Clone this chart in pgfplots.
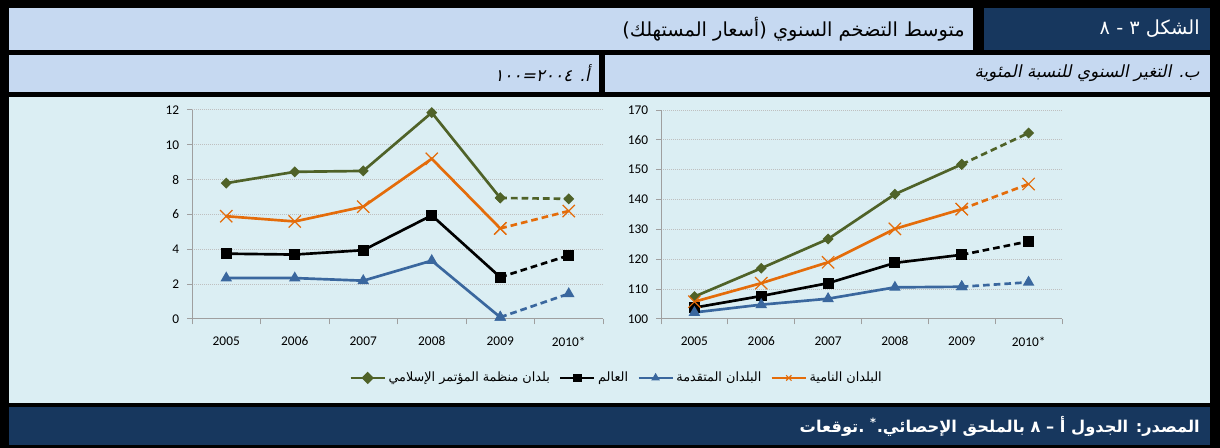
\documentclass[border=0pt]{standalone}
\usepackage{fontspec}
\setmainfont{Carlito}
\newfontfamily\arabicfont[Script=Arabic]{DejaVu Sans}
\newfontfamily\arabicslant[Script=Arabic,FakeSlant=0.2]{DejaVu Sans}
\usepackage{pgfplots}
\pgfplotsset{compat=1.18}
\TeXXeTstate=1

\definecolor{oicgreen}{RGB}{79,98,40}
\definecolor{devorange}{RGB}{228,108,10}
\definecolor{advblue}{RGB}{58,103,158}
\definecolor{headblue}{RGB}{198,217,241}
\definecolor{darkblue}{RGB}{23,55,94}
\definecolor{chartbg}{RGB}{219,238,243}

\pgfplotsset{
  panel/.style={
    scale only axis, height=156.75pt,
    xmin=0.5, xmax=6.5,
    xtick={1,...,6}, xticklabels={2005,2006,2007,2008,2009,2010*},
    minor xtick={0.5,1.5,...,6.5},
    axis lines=left, axis line style={draw=gray!75, line width=0.75pt, -},
    tick align=outside, major tick length=3.75pt, minor tick length=4pt,
    major x tick style={draw=none},
    minor x tick style={draw=gray!75, line width=0.75pt},
    ytick style={draw=gray!75, line width=0.75pt},
    ymajorgrids,
    major grid style={gray!50, line width=0.75pt, dash pattern=on 0.75pt off 0.75pt},
    tick label style={font=\fontsize{10}{12}\selectfont},
    xticklabel shift=6pt, yticklabel shift=2.4pt,
    /pgf/number format/assume math mode=true,
    clip=false,
    legend image code/.code={\draw[mark repeat=2,mark phase=2,#1,line width=1.6pt,mark size=2.8pt] plot coordinates {(0cm,0cm) (0.45cm,0cm) (0.9cm,0cm)};},
  },
  sgreen/.style={oicgreen, line width=2pt, mark=square*, mark size=2.4pt, mark options={solid, rotate=45, fill=oicgreen, line width=1pt}},
  sblack/.style={black, line width=2pt, mark=square*, mark size=3.6pt, mark options={solid, fill=black, line width=1pt}},
  sblue/.style={advblue, line width=2pt, mark=triangle*, mark size=4pt, mark options={solid, fill=advblue, line width=1pt}},
  sorange/.style={devorange, line width=2pt, mark=x, mark size=6.5pt, mark options={solid, line width=0.9pt}},
  proj/.style={dash pattern=on 5pt off 3pt, forget plot},
}

\begin{document}
\begin{tikzpicture}
\begin{scope}[x=0.75pt, y=-0.75pt]
  \path[use as bounding box] (0,0) rectangle (1220,448);
  \fill[black] (0,0) rectangle (1220,448);
  \fill[headblue] (9,8) rectangle (973,50);
  \fill[darkblue] (984,8) rectangle (1210,50);
  \fill[headblue] (9,55) rectangle (599,92);
  \fill[headblue] (605,55) rectangle (1210,92);
  \fill[chartbg] (9,97) rectangle (1210,403);
  \fill[darkblue] (9,407) rectangle (1210,445);

  \node[anchor=east, inner sep=0pt, font=\arabicfont\fontsize{14.5}{16}\selectfont] at (965,29)
    {\beginR متوسط التضخم السنوي (أسعار المستهلك)\endR};
  \node[anchor=east, inner sep=0pt, text=white, font=\arabicfont\fontsize{14.5}{16}\selectfont] at (1200,29)
    {\beginR الشكل ٣ - ٨\endR};
  \node[anchor=east, inner sep=0pt, font=\arabicslant\fontsize{12.7}{15}\selectfont] at (590,73)
    {\beginR أ. ٢٠٠٤=١٠٠\endR};
  \node[anchor=east, inner sep=0pt, font=\arabicslant\fontsize{12.6}{15}\selectfont] at (1200,73)
    {\beginR ب. التغير السنوي للنسبة المئوية\endR};
  \node[anchor=east, inner sep=0pt, text=white, font=\arabicfont\bfseries\fontsize{12.2}{15}\selectfont] at (1200,426)
    {\beginR المصدر: الجدول أ – ٨ بالملحق الإحصائي.\textsuperscript{*} .توقعات\endR};
\end{scope}

% left panel: annual change, percent
\begin{axis}[panel, at={(144pt,-239.25pt)}, anchor=south west, width=308.25pt,
  ymin=0, ymax=12, ytick={0,2,...,12},
  legend columns=4,
  legend style={at={(1.034,-0.282)}, anchor=center, draw=none, fill=none,
    font=\arabicfont\fontsize{9.6}{11}\selectfont,
    /tikz/every even column/.append style={column sep=5pt}},
]
\addplot[sgreen] coordinates {(1,7.8) (2,8.45) (3,8.5) (4,11.85) (5,6.95)};
\addlegendentry{\beginR بلدان منظمة المؤتمر الإسلامي\endR}
\addplot[sgreen, proj] coordinates {(5,6.95) (6,6.9)};
\addplot[sblack] coordinates {(1,3.75) (2,3.7) (3,3.95) (4,5.95) (5,2.4)};
\addlegendentry{\beginR العالم\endR}
\addplot[sblack, proj] coordinates {(5,2.4) (6,3.65)};
\addplot[sblue] coordinates {(1,2.35) (2,2.35) (3,2.2) (4,3.35) (5,0.1)};
\addlegendentry{\beginR البلدان المتقدمة\endR}
\addplot[sblue, proj] coordinates {(5,0.1) (6,1.45)};
\addplot[sorange] coordinates {(1,5.9) (2,5.6) (3,6.45) (4,9.2) (5,5.2)};
\addlegendentry{\beginR البلدان النامية\endR}
\addplot[sorange, proj] coordinates {(5,5.2) (6,6.2)};
\end{axis}

% right panel: index 2004=100
\begin{axis}[panel, at={(495.75pt,-239.25pt)}, anchor=south west, width=300.75pt,
  ymin=100, ymax=170, ytick={100,110,...,170},
]
\addplot[sgreen] coordinates {(1,107.5) (2,117) (3,126.8) (4,141.8) (5,151.8)};
\addplot[sgreen, proj] coordinates {(5,151.8) (6,162.3)};
\addplot[sblack] coordinates {(1,103.8) (2,107.7) (3,112) (4,118.8) (5,121.5)};
\addplot[sblack, proj] coordinates {(5,121.5) (6,126)};
\addplot[sblue] coordinates {(1,102.2) (2,104.8) (3,106.8) (4,110.6) (5,110.8)};
\addplot[sblue, proj] coordinates {(5,110.8) (6,112.3)};
\addplot[sorange] coordinates {(1,105.8) (2,112) (3,119) (4,130.2) (5,136.8)};
\addplot[sorange, proj] coordinates {(5,136.8) (6,145.2)};
\end{axis}
\end{tikzpicture}
\end{document}
